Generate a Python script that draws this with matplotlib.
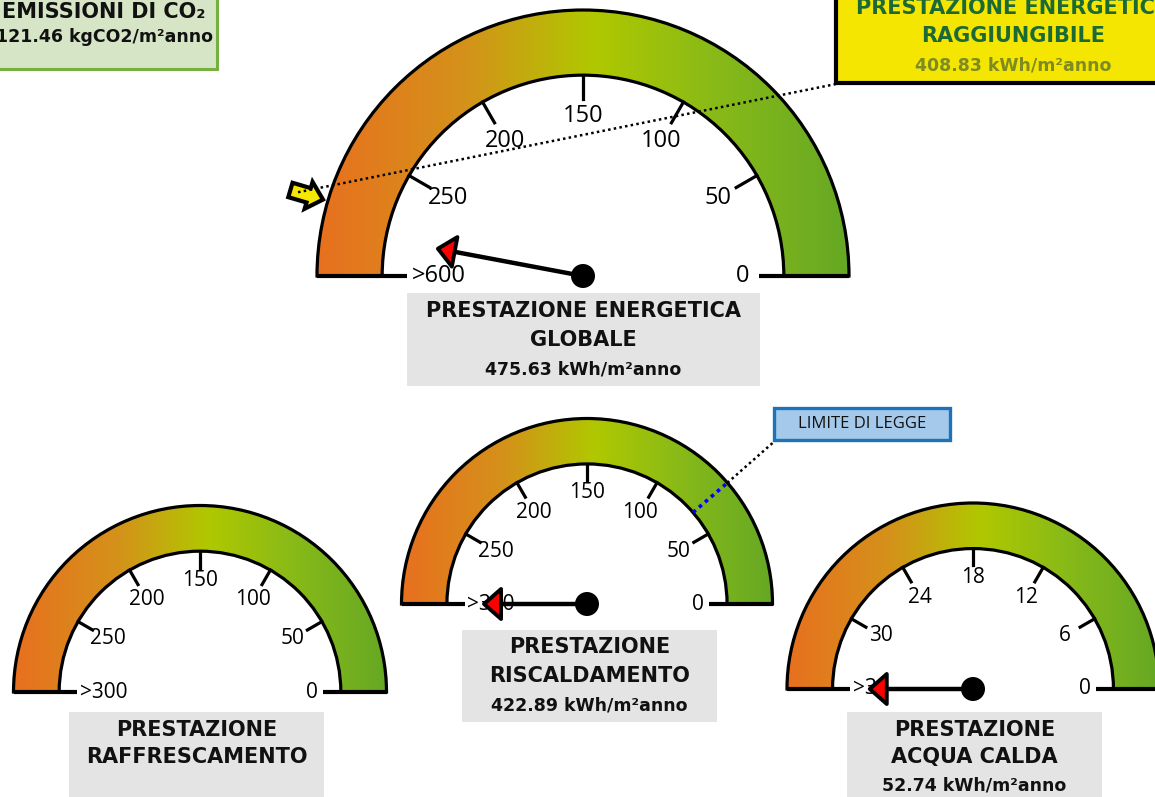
import numpy as np
import matplotlib
matplotlib.use("Agg")
import matplotlib.pyplot as plt
from matplotlib.patches import Wedge, Rectangle, Polygon, Circle
from matplotlib.colors import LinearSegmentedColormap

# ---------------- data ----------------
scale_ticks = [0, 50, 100, 150, 200, 250]
dhw_ticks = [0, 6, 12, 18, 24, 30]

global_cap = 600
global_value = 475.63
global_target = 408.83

heat_cap = 300
heat_value = 422.89
heat_limit = 68

cool_cap = 300

dhw_cap = 36
dhw_value = 52.74

co2_value = 121.46

title_global = ["PRESTAZIONE ENERGETICA", "GLOBALE"]
title_heat = ["PRESTAZIONE", "RISCALDAMENTO"]
title_cool = ["PRESTAZIONE", "RAFFRESCAMENTO"]
title_dhw = ["PRESTAZIONE", "ACQUA CALDA"]
unit = "kWh/m²anno"

# ---------------- figure ----------------
W, H = 1155, 797
fig = plt.figure(figsize=(W / 100, H / 100), dpi=100)
ax = fig.add_axes([0, 0, 1, 1])
ax.set_xlim(0, W)
ax.set_ylim(0, H)
ax.axis("off")


def Y(y):
    return H - y


cmap = LinearSegmentedColormap.from_list(
    "g", [(0, "#e8701f"), (0.28, "#d4921a"), (0.52, "#b0c800"),
          (0.75, "#88ba18"), (1, "#66a824")])

BOLD = dict(family="DejaVu Sans", weight="bold")
TICKF = dict(family="Open Sans")


def v2a(v, ticks, cap):
    step = ticks[1] - ticks[0]
    n = len(ticks) - 1
    if v <= ticks[-1]:
        return 30.0 * v / step
    frac = min(1.0, (v - ticks[-1]) / (cap - ticks[-1]))
    return 30.0 * n + (180 - 30.0 * n) * frac


def draw_gauge(cx, cy, R, ticks, cap, value, fs, lr_frac):
    r = 0.755 * R
    Yc = Y(cy)
    grad = np.linspace(0, 1, 256).reshape(1, -1)
    im = ax.imshow(grad, cmap=cmap, extent=[cx - R, cx + R, Yc, Yc + R],
                   origin="lower", aspect="auto", interpolation="bicubic", zorder=1)
    clip = Wedge((cx, Yc), R, 0, 180, width=R - r, transform=ax.transData)
    im.set_clip_path(clip)
    ax.add_patch(Wedge((cx, Yc), R, 0, 180, width=R - r, fill=False,
                       ec="black", lw=2.3, zorder=2))
    ext = 0.095 * R
    ax.plot([cx - R, cx - r + ext], [Yc, Yc], color="black", lw=3,
            solid_capstyle="butt", zorder=2)
    ax.plot([cx + r - ext, cx + R], [Yc, Yc], color="black", lw=3,
            solid_capstyle="butt", zorder=2)
    tl = 0.09 * R
    for i, t in enumerate(ticks):
        a = np.radians(30 * i)
        if i > 0:
            ax.plot([cx + r * np.cos(a), cx + (r - tl) * np.cos(a)],
                    [Yc + r * np.sin(a), Yc + (r - tl) * np.sin(a)],
                    color="black", lw=2.3, zorder=2)
        lr = (0.6 if i in (0, 3) else lr_frac) * R
        ax.text(cx + lr * np.cos(a), Yc + lr * np.sin(a), str(t), ha="center",
                va="center", fontsize=fs, zorder=3, **TICKF)
    ax.text(cx - 0.645 * R, Yc, ">" + str(cap), ha="left", va="center",
            fontsize=fs, zorder=3, **TICKF)
    if value is not None:
        a = np.radians(v2a(value, ticks, cap))
        e = np.array([np.cos(a), np.sin(a)])
        nrm = np.array([-e[1], e[0]])
        c = np.array([cx, Yc])
        L = 0.555 * R
        tip = c + L * e
        base = c + (L - 17) * e
        ax.plot([c[0], base[0]], [c[1], base[1]], color="black", lw=3.2, zorder=5)
        tri = [tip, base + 15 * nrm, base - 15 * nrm]
        ax.add_patch(Polygon(tri, closed=True, fc="#ff0000", ec="black",
                             lw=2.8, joinstyle="round", zorder=6))
        ax.add_patch(Circle((cx, Yc), 12, fc="black", ec="none", zorder=7))
    return r


def gray_box(x0, y0, x1, y1, lines, ys, value=None, vy=None):
    ax.add_patch(Rectangle((x0, Y(y1)), x1 - x0, y1 - y0, fc="#e4e4e4",
                           ec="none", zorder=0))
    xc = (x0 + x1) / 2
    for t, yy in zip(lines, ys):
        ax.text(xc, Y(yy), t, ha="center", va="center", fontsize=15,
                color="#111111", zorder=3, **BOLD)
    if value is not None:
        ax.text(xc, Y(vy), f"{value:.2f} {unit}", ha="center", va="center",
                fontsize=12.5, color="#111111", zorder=3, **BOLD)


# ---------------- top gauge ----------------
gcx, gcy, gR = 583, 276, 266
draw_gauge(gcx, gcy, gR, scale_ticks, global_cap, global_value, 17, 0.585)
gray_box(407, 293, 760, 386, title_global, [311, 340], global_value, 369)

# target arrow (yellow) + dotted leader to yellow box
ta = np.radians(v2a(global_target, scale_ticks, global_cap))
e = np.array([np.cos(ta), np.sin(ta)])
u = -e
nrm = np.array([-u[1], u[0]])
c = np.array([gcx, Y(gcy)])
tip = c + (gR + 5) * e
hb = tip - 15 * u
tail = tip - 34 * u
arrow = [tip, hb + 14 * nrm, hb + 7.5 * nrm, tail + 7.5 * nrm,
         tail - 7.5 * nrm, hb - 7.5 * nrm, hb - 14 * nrm]
ax.add_patch(Polygon(arrow, closed=True, fc="#f5e800", ec="black", lw=3,
                     joinstyle="miter", zorder=8))
start = tip - 26 * u
ax.plot([start[0], 836], [start[1], Y(84)], color="black", lw=1.8,
        ls=(0, (1, 1.3)), zorder=9)

# yellow box
ax.add_patch(Rectangle((836, Y(83)), 340, 100, fc="#f4e600", ec="black",
                       lw=3, zorder=10))
ax.text(1013, Y(8), "PRESTAZIONE ENERGETICA", ha="center", va="center",
        fontsize=15, color="#1b6a36", zorder=11, **BOLD)
ax.text(1013, Y(36), "RAGGIUNGIBILE", ha="center", va="center",
        fontsize=15, color="#1b6a36", zorder=11, **BOLD)
ax.text(1013, Y(65), f"{global_target:.2f} {unit}", ha="center", va="center",
        fontsize=12.5, color="#7d8b22", zorder=11, **BOLD)

# emissions box
ax.add_patch(Rectangle((-10, Y(69)), 227, 90, fc="#d6e5c6", ec="#76b041",
                       lw=2.2, zorder=10))
ax.text(104, Y(12), "EMISSIONI DI CO₂", ha="center", va="center",
        fontsize=15, color="#111111", zorder=11, **BOLD)
ax.text(104, Y(37), f"{co2_value:.2f} kgCO2/m²anno", ha="center", va="center",
        fontsize=12.5, color="#111111", zorder=11, **BOLD)

# ---------------- heating gauge ----------------
hcx, hcy, hR = 587, 604, 185.5
hr = draw_gauge(hcx, hcy, hR, scale_ticks, heat_cap, heat_value, 15, 0.57)
gray_box(462, 630, 717, 722, title_heat, [647, 676], heat_value, 706)
la = np.radians(v2a(heat_limit, scale_ticks, heat_cap))
e = np.array([np.cos(la), np.sin(la)])
c = np.array([hcx, Y(hcy)])
p_in = c + hr * e
p_out = c + hR * e
ax.plot([p_in[0], p_out[0]], [p_in[1], p_out[1]], color="#0000ff", lw=2.6,
        ls=(0, (1, 1.2)), zorder=4)
ax.plot([p_out[0], 776], [p_out[1], Y(440)], color="black", lw=1.8,
        ls=(0, (1, 1.3)), zorder=4)
ax.add_patch(Rectangle((774, Y(440)), 176, 32, fc="#a4c9ea", ec="#1f72b8",
                       lw=2.4, zorder=10))
ax.text(862, Y(424), "LIMITE DI LEGGE", ha="center", va="center",
        fontsize=12, color="#111111", zorder=11, **TICKF)

# ---------------- cooling gauge ----------------
ccx, ccy, cR = 200, 692, 186.5
draw_gauge(ccx, ccy, cR, scale_ticks, cool_cap, None, 15, 0.57)
gray_box(69, 712, 324, 810, title_cool, [730, 757])

# ---------------- hot water gauge ----------------
dcx, dcy, dR = 973, 689, 186
draw_gauge(dcx, dcy, dR, dhw_ticks, dhw_cap, dhw_value, 15, 0.57)
gray_box(847, 712, 1102, 810, title_dhw, [730, 757], dhw_value, 785)

fig.savefig("out.png", dpi=100)
